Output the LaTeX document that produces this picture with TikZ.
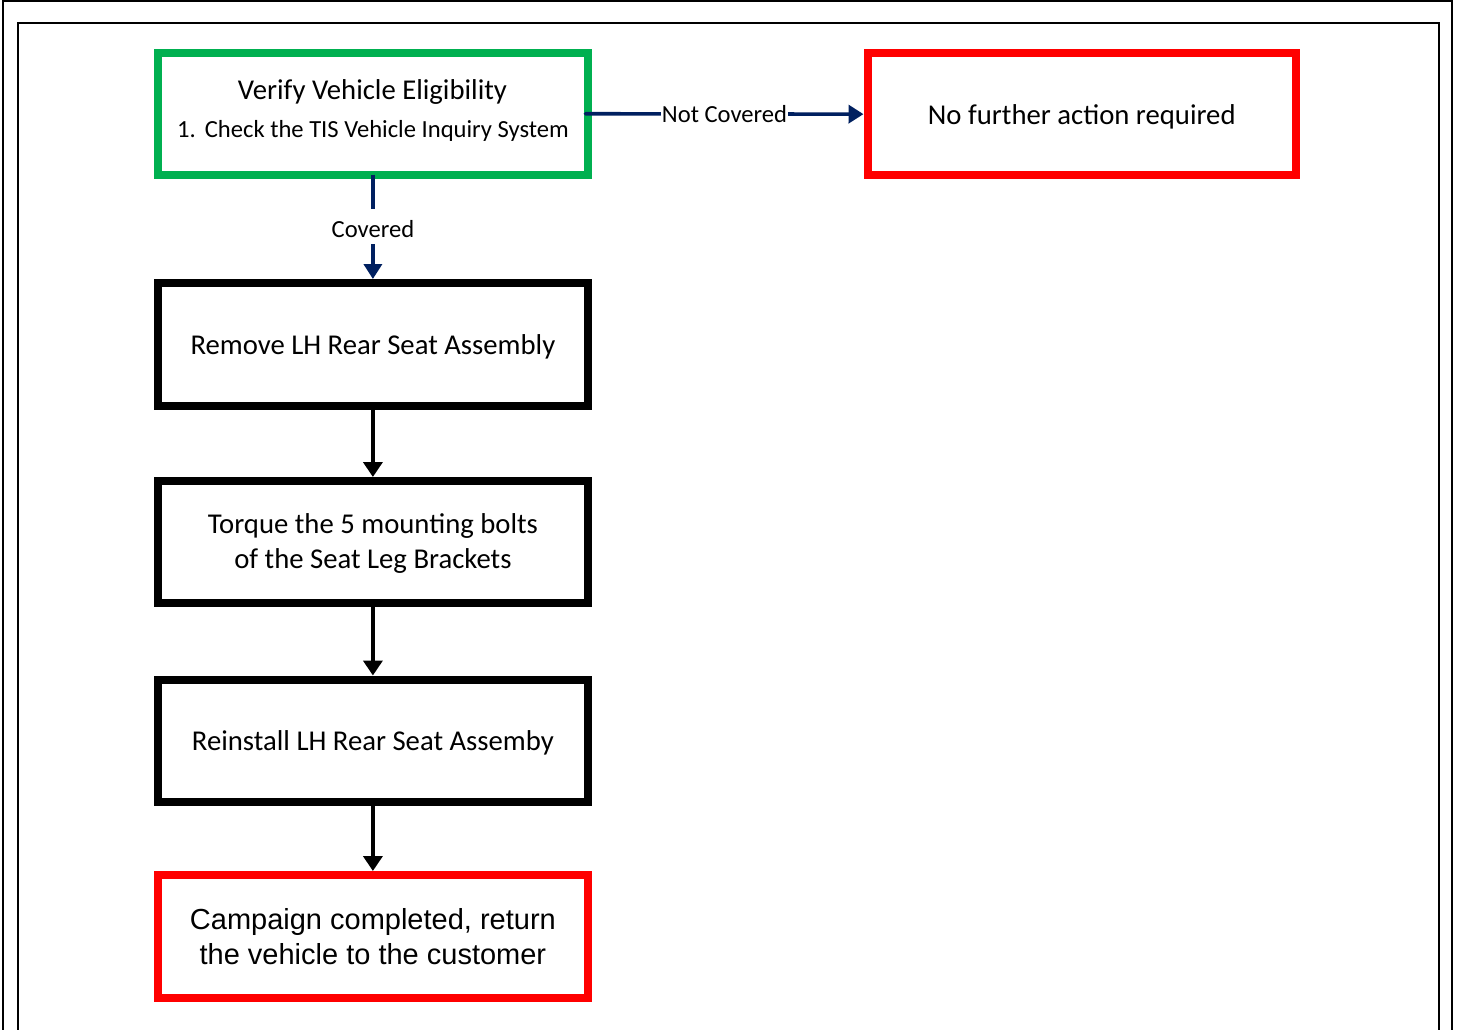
\documentclass[tikz,border=0pt]{standalone}
\usepackage{fontspec}
\setmainfont{Carlito}
\newfontfamily\arialfont{Liberation Sans}
\usetikzlibrary{arrows.meta,shadows}
\definecolor{boxgreen}{RGB}{0,176,80}
\definecolor{boxred}{RGB}{255,0,0}
\definecolor{navy}{RGB}{0,32,96}
\definecolor{glow}{RGB}{214,226,243}
\tikzset{
  box/.style={draw, line width=8pt, fill=white, minimum width=429pt, minimum height=122pt,
    inner sep=0pt, align=center,
    drop shadow={shadow xshift=1pt, shadow yshift=-3pt, fill=glow, opacity=0.6}},
  bigtxt/.style={font=\fontsize{28.7}{35}\selectfont},
  lowtxt/.style={text height=24.5pt},
  smalltxt/.style={font=\fontsize{24.6}{30}\selectfont},
  frame/.style={draw, line width=2.5pt},
  navyarrow/.style={draw=navy, line width=3.6pt, -{Triangle[length=15pt,width=18pt]}},
  blackarrow/.style={draw=black, line width=4pt, -{Triangle[length=15pt,width=19pt]}},
  lbl/.style={fill=white, smalltxt, text=black}
}
\begin{document}
\begin{tikzpicture}[x=1pt,y=-1pt]
\useasboundingbox (0,0) rectangle (1461,1030);
\fill[white] (0,0) rectangle (1461,1030);
\draw[frame] (2.8,1) rectangle (1452,1045);
\draw[frame] (17.8,23) rectangle (1438.8,1045);

\node[box, draw=boxgreen, minimum width=429.2pt, minimum height=121.5pt] (v) at (372.9,113.75) {};
\node[bigtxt, anchor=base] (vt1) at (372.5,100) {Verify Vehicle Eligibility};
\node[smalltxt, anchor=base] (vt2) at (373,137.8) {1.\hspace{9pt}Check the TIS Vehicle Inquiry System};

\node[box, draw=boxred, minimum width=428.5pt, minimum height=121.7pt, bigtxt, lowtxt] (nf) at (1081.75,114.15) {No further action required};

\node[box, minimum width=429.2pt, minimum height=123pt, bigtxt, lowtxt] (rm) at (372.9,344.5) {Remove LH Rear Seat Assembly};
\node[box, minimum width=429.2pt, minimum height=122pt, bigtxt, text depth=1.5pt] (tq) at (372.9,542) {Torque the 5 mounting bolts\\of the Seat Leg Brackets};
\node[box, minimum width=429.2pt, minimum height=122.2pt, bigtxt, lowtxt] (ri) at (372.9,740.6) {Reinstall LH Rear Seat Assemby};
\node[box, draw=boxred, minimum width=429.2pt, minimum height=122.5pt, font=\arialfont\fontsize{29}{35}\selectfont] (cc) at (372.9,936.25) {Campaign completed, return\\the vehicle to the customer};

\draw[navyarrow, line cap=round] ([xshift=-6pt]v.east) -- node[lbl, inner xsep=0.5pt, inner ysep=2pt] (nclbl) {Not Covered} (nf.west);
\draw[navyarrow] ([yshift=4pt]v.south) -- node[lbl, inner xsep=2pt, inner ysep=6.5pt, text height=22pt] (covlbl) {Covered} (rm.north);
\draw[blackarrow] (rm.south) -- (tq.north);
\draw[blackarrow] (tq.south) -- (ri.north);
\draw[blackarrow] (ri.south) -- (cc.north);
\end{tikzpicture}
\end{document}
